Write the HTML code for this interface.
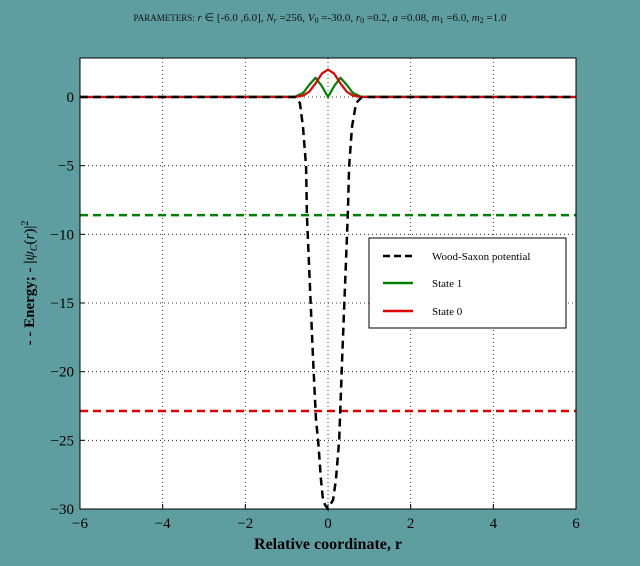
<!DOCTYPE html>
<html><head><meta charset="utf-8"><style>
body{margin:0;background:#5f9ea0;}
svg{display:block;font-family:"Liberation Serif",serif;}
</style></head><body>
<svg id="chart" width="640" height="566" xmlns="http://www.w3.org/2000/svg">
<rect width="640" height="566" fill="#5f9ea0"/>
<text x="320" y="21" text-anchor="middle" font-size="11" fill="#111"><tspan font-size="9">PARAMETERS:</tspan> <tspan font-style="italic">r</tspan> ∈ [-6.0 ,6.0], <tspan font-style="italic">N</tspan><tspan font-size="8" font-style="italic" dy="2">r</tspan><tspan dy="-2"> =256, </tspan><tspan font-style="italic">V</tspan><tspan font-size="8" dy="2">0</tspan><tspan dy="-2"> =-30.0, </tspan><tspan font-style="italic">r</tspan><tspan font-size="8" dy="2">0</tspan><tspan dy="-2"> =0.2, </tspan><tspan font-style="italic">a</tspan> =0.08, <tspan font-style="italic">m</tspan><tspan font-size="8" dy="2">1</tspan><tspan dy="-2"> =6.0, </tspan><tspan font-style="italic">m</tspan><tspan font-size="8" dy="2">2</tspan><tspan dy="-2"> =1.0</tspan></text>
<rect x="80" y="58" width="496" height="451" fill="#fff"/>
<g id="grid"></g>
<g id="series"></g>
<rect x="80" y="58" width="496" height="451" fill="none" stroke="#000" stroke-width="1"/>
<g id="axes"></g>
<text x="328" y="549" text-anchor="middle" font-size="16" font-weight="bold" fill="#000">Relative coordinate, r</text>
<text transform="translate(34,283) rotate(-90)" text-anchor="middle" font-size="15" font-weight="bold" fill="#000">- - Energy; - |<tspan font-style="italic" font-weight="normal">ψ</tspan><tspan font-size="10" font-style="italic" font-weight="normal" dy="3">C</tspan><tspan dy="-3" font-weight="normal">(<tspan font-style="italic">r</tspan>)|</tspan><tspan font-size="10" dy="-6" font-weight="normal">2</tspan></text>
<g>
<rect x="369" y="238" width="197" height="90" fill="#fff" stroke="#000"/>
<line x1="383" y1="256" x2="413" y2="256" stroke="#000" stroke-width="2.5" stroke-dasharray="7,4"/>
<text x="432" y="260" font-size="11">Wood-Saxon potential</text>
<line x1="383" y1="283" x2="413" y2="283" stroke="#008000" stroke-width="2.5"/>
<text x="432" y="287" font-size="11">State 1</text>
<line x1="383" y1="311" x2="413" y2="311" stroke="#e00000" stroke-width="2.5"/>
<text x="432" y="315" font-size="11">State 0</text>
</g>
</svg>
<script>
const xTicks=[-6,-4,-2,0,2,4,6];
const yTicks=[0,-5,-10,-15,-20,-25,-30];
const potX=[-6,-0.80,-0.68,-0.605,-0.53,-0.51,-0.36,-0.29,-0.24,-0.17,-0.12,-0.07,0.0,0.05,0.12,0.19,0.27,0.34,0.48,0.51,0.58,0.68,0.82,6];
const potY=[0,0,-0.44,-2.18,-5.10,-8.59,-19.15,-23.52,-24.98,-27.89,-29.35,-29.71,-30,-29.71,-29.35,-27.89,-24.98,-19.15,-8.59,-5.10,-2.18,-0.44,0,0];
const waveX=[-6,-0.8,-0.6,-0.45,-0.3,-0.15,0,0.15,0.3,0.45,0.6,0.8,6];
const state1Wave=[0,0.02,0.3,0.9,1.4,0.8,0,0.8,1.4,0.9,0.3,0.02,0];
const state0Wave=[0,0.0,0.1,0.4,1.0,1.7,2.0,1.7,1.0,0.4,0.1,0.0,0];
const state1Energy=-8.6;
const state0Energy=-22.86;
const X0=80,X1=576,Y0=509,Y1=58,xmin=-6,xmax=6,ymin=-30,ymax=2.84;
const sx=v=>X0+(v-xmin)/(xmax-xmin)*(X1-X0);
const sy=v=>Y0-(v-ymin)/(ymax-ymin)*(Y0-Y1);
const NS="http://www.w3.org/2000/svg";
function mk(parent,tag,attrs){const e=document.createElementNS(NS,tag);for(const k in attrs)e.setAttribute(k,attrs[k]);parent.appendChild(e);return e;}
const grid=document.getElementById('grid'),axes=document.getElementById('axes'),series=document.getElementById('series');
xTicks.forEach(t=>{
 const g=mk(grid,'line',{x1:sx(t),x2:sx(t),y1:Y1,y2:Y0,stroke:'#000','stroke-width':0.8,'stroke-dasharray':'1,3'});
 
 
 const tk=mk(axes,'line',{x1:sx(t),x2:sx(t),y1:Y0,y2:Y0-5,stroke:'#000'});
 
 
 const lb=mk(axes,'text',{x:sx(t),y:Y0+19,'text-anchor':'middle','font-size':15});
 lb.textContent=(t<0?'−':'')+Math.abs(t);
 
 
});
yTicks.forEach(t=>{
 const g=mk(grid,'line',{x1:X0,x2:X1,y1:sy(t),y2:sy(t),stroke:'#000','stroke-width':0.8,'stroke-dasharray':'1,3'});
 
 
 const tk=mk(axes,'line',{x1:X0,x2:X0+5,y1:sy(t),y2:sy(t),stroke:'#000'});
 
 
 const lb=mk(axes,'text',{x:X0-6,y:sy(t)+5,'text-anchor':'end','font-size':15});
 lb.textContent=(t<0?'−':'')+Math.abs(t);
 
 
});
function path(xs,ys,attrs){return mk(series,'path',Object.assign({d:xs.map((x,i)=>(i?'L':'M')+sx(x).toFixed(1)+','+sy(ys[i]).toFixed(1)).join(''),fill:'none'},attrs));}
const e1=mk(series,'line',{x1:X0,x2:X1,y1:sy(state1Energy),y2:sy(state1Energy),stroke:'#008000','stroke-width':2.5,'stroke-dasharray':'8,5'});


const e0=mk(series,'line',{x1:X0,x2:X1,y1:sy(state0Energy),y2:sy(state0Energy),stroke:'#e00000','stroke-width':2.5,'stroke-dasharray':'8,5'});


const w1=path(waveX,state1Wave,{stroke:'#008000','stroke-width':2.2,'stroke-linejoin':'round'});


const w0=path(waveX,state0Wave,{stroke:'#e00000','stroke-width':2.2,'stroke-linejoin':'round'});


const pot=path(potX,potY,{stroke:'#000','stroke-width':2.5,'stroke-dasharray':'8,5'});


</script>
</body></html>
